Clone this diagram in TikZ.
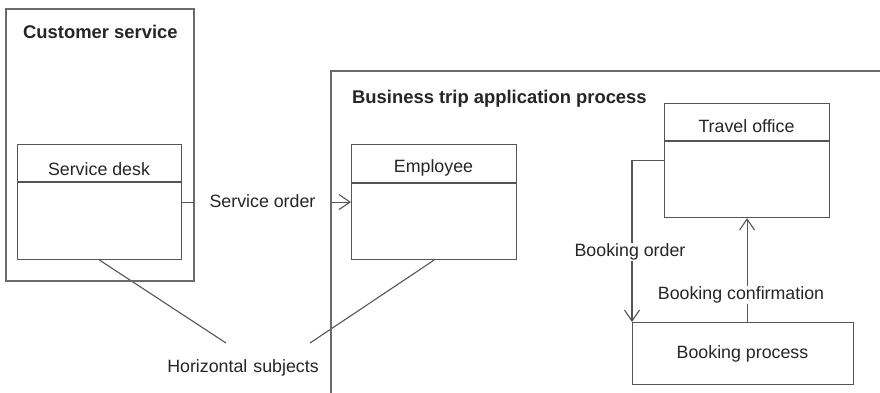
\documentclass[tikz,border=0pt]{standalone}
\usepackage{fontspec}
\setmainfont{Liberation Sans}
\usetikzlibrary{arrows.meta,calc}
\definecolor{ln}{HTML}{555555}
\definecolor{fr}{HTML}{6A6A6A}
\definecolor{tx}{HTML}{262626}
\begin{document}
\begin{tikzpicture}[x=1pt,y=-1pt,
  font=\fontsize{17.8}{21}\selectfont, text=tx,
  box/.style={draw=ln, line width=1.1pt, fill=white, anchor=north west, inner sep=0pt},
  frame/.style={draw=fr, line width=1.4pt},
  conn/.style={draw=ln, line width=1.1pt},
  arr/.style={conn, -{Straight Barb[length=11pt,width=15pt,line width=1.1pt]}},
  lbl/.style={fill=white, inner sep=1pt},
  ttl/.style={font=\fontsize{18.4}{22}\selectfont\bfseries, anchor=west, inner sep=0pt}]
\useasboundingbox (0,0) rectangle (880,392);
\fill[white] (0,0) rectangle (880,392);

% subject boxes
\node[box, minimum width=164pt, minimum height=115pt] (sd) at (17,144) {};
\draw[conn] (17,182) -- (181,182);
\node[inner sep=0pt] (sdt) at (99,169) {Service desk};

\node[box, minimum width=165pt, minimum height=115pt] (emp) at (351,144) {};
\draw[conn] (351,183) -- (516,183);
\node[inner sep=0pt] (empt) at (433.5,168) {Employee};

\node[box, minimum width=165pt, minimum height=114pt] (to) at (664,103) {};
\draw[conn] (664,141) -- (829,141);
\node[inner sep=0pt] (tot) at (746.5,126) {Travel office};

\node[box, minimum width=221pt, minimum height=62pt] (bp) at (632,322) {};
\node[inner sep=0pt] (bpt) at (742.5,354) {Booking process};

% connectors
\draw[arr] (sd.east) -- (emp.west);
\node[fill=white, inner sep=0pt, minimum width=135pt, minimum height=20pt] (so) at (262.5,201.5) {Service order};

\draw[arr] (to.west) -| (bp.north west);
\node[lbl] (bo) at (630,252) {Booking order};

\draw[arr] (bp.north -| to.south) -- (to.south);
\node[lbl] (bc) at (741,295) {Booking confirmation};

% horizontal subjects
\coordinate (h1) at (226,343);
\coordinate (h2) at (310,343);
\draw[conn] (sd.south) -- (h1);
\draw[conn] (emp.south) -- (h2);
\node[inner sep=0pt] (hs) at (243,368) {Horizontal\hspace{6pt}subjects};

% outer frames
\draw[frame] (6,9) rectangle (194,281);
\node[ttl] (cst) at (23,32) {Customer service};
\draw[frame] (331,395) -- (331,71) -- (885,71);
\node[ttl] (btt) at (352,99) {Business trip application process};
\end{tikzpicture}
\end{document}
